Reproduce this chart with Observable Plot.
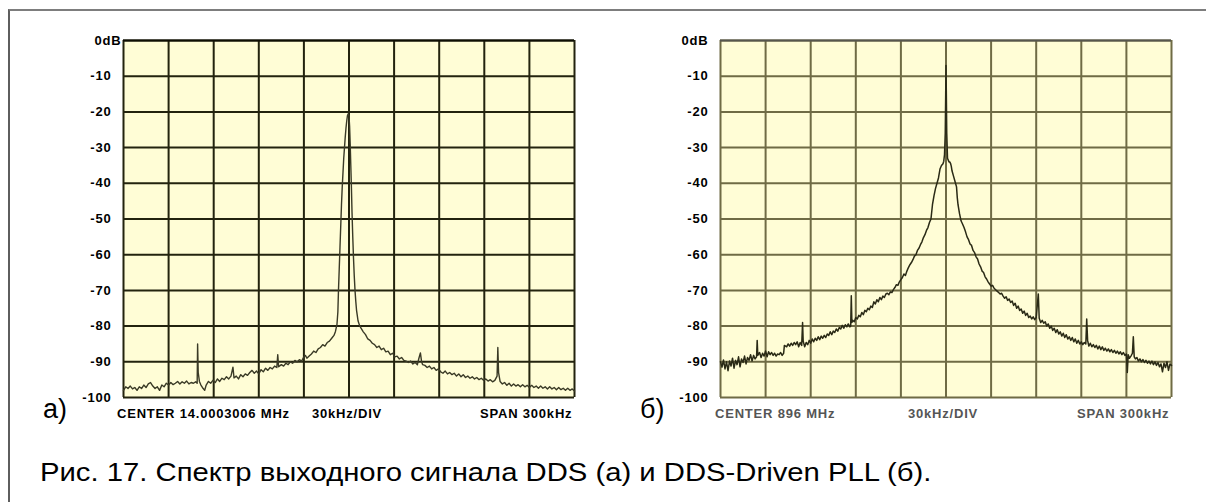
<!DOCTYPE html>
<html>
<head>
<meta charset="utf-8">
<script src="https://cdn.jsdelivr.net/npm/d3@7"></script>
<script src="https://cdn.jsdelivr.net/npm/@observablehq/plot@0.6"></script>
<style>
  html, body { margin: 0; padding: 0; background: #ffffff; }
  #page { position: relative; width: 1206px; height: 502px; overflow: hidden; background: #fff;
          font-family: "Liberation Sans", Arial, sans-serif; }
  #border { position: absolute; left: 8px; top: 9px; right: -4px; bottom: -10px;
            border-top: 2px solid #7d7d7d; border-left: 2px solid #5e5e5e; }
  .chart { position: absolute; top: 20px; }
  .chart svg { overflow: visible; }
  .lbl { position: absolute; font-weight: bold; font-size: 13px; line-height: 13px;
         letter-spacing: 0.8px; white-space: nowrap; }
  .big { position: absolute; font-size: 27px; line-height: 27px; white-space: nowrap; color: #000; }
  #caption { position: absolute; left: 40px; top: 460px; font-size: 25px; line-height: 25px;
             white-space: nowrap; color: #000; transform: scaleX(1.17); transform-origin: 0 0; }
</style>
</head>
<body>
<div id="page">
  <div id="border"></div>
  <div id="chartA" class="chart" style="left:60px"></div>
  <div id="chartB" class="chart" style="left:660px"></div>
</div>
<script>
// ---- axis ticks ----
const xTicks = [-150, -120, -90, -60, -30, 0, 30, 60, 90, 120, 150];   // kHz offset from center (30 kHz/div)
const yTicks = [0, -10, -20, -30, -40, -50, -60, -70, -80, -90, -100]; // dB

// ---- chart (а): DDS output spectrum ----
const freqA = [
-150,-148.5,-147,-145.5,-144,-142.5,-141,-139.5,-138,-136.5,-135,-133.5,-132,-130.5,-129,-127.5,-126,-124.5,-123,-121.5,
-120,-118.5,-117,-115.5,-114,-112.5,-111,-109.5,-108,-106.5,-105,-103.5,-102,-101,-100.7,-100.3,-99.5,-98.5,-97,-96,
-95,-93.5,-92,-90.5,-89,-87.5,-86,-84.5,-83,-81.5,-80,-78.5,-77.2,-76.5,-75,-73.5,-72,-70.5,-69,-67.5,
-66,-64.5,-63,-61.5,-60,-58.5,-57,-55.5,-54,-52.5,-51,-49.5,-48,-47.4,-46.8,-45,-43.5,-42,-40.5,-39,
-37.5,-36,-34.5,-33,-31.5,-30,-29,-28,-26.5,-25,-23.5,-22,-20.5,-19,-17.5,-16,-14.5,-13,-11.5,-10,
-9,-8,-7.4,-7,-6.5,-6,-5.5,-5,-4.5,-4,-3.5,-3,-2.5,-2,-1.5,-1,-0.5,0,0.4,0.8,
1.2,1.6,2,2.5,3,3.5,4,4.5,5,5.5,6,7,8,9.5,11,12.5,14,15.5,17,18.5,
20,21.5,23,24.5,26,27.5,29,30.5,32,33.5,35,36.5,38,39.5,41,42.5,44,45.5,46.5,47.5,
48.3,49,50.5,52,53.5,55,56.5,58,59.5,61,62.5,64,65.5,67,68.5,70,71.5,73,74.5,76,
77.5,79,80.5,82,83.5,85,86.5,88,89.5,91,92.5,94,95.5,97,98.5,99,99.5,100.5,102,103.5,
105,106.5,108,109.5,111,112.5,114,115.5,117,118.5,120,121.5,123,124.5,126,127.5,129,130.5,132,133.5,
135,136.5,138,139.5,141,142.5,144,145.5,147,148.5,150
];
const levelA = [
-98,-97,-97.5,-96.8,-97.6,-97.2,-98,-97,-97.5,-96.5,-97.2,-96.2,-95.8,-96.8,-97.5,-97,-98,-96.5,-97,-96,
-96.5,-95.8,-96.4,-96,-95.5,-96.2,-95.6,-96,-95.4,-96.2,-95.8,-96,-95.6,-96,-85,-93,-95.5,-96.5,-97.5,-98,
-96.5,-95.5,-96,-95.2,-95.8,-94.8,-95.5,-94.6,-95,-94.2,-94.8,-94,-91.5,-94.5,-94,-94.8,-93.6,-94.2,-93.4,-93.8,
-93,-92.4,-93.2,-92.6,-93.4,-92.2,-92.8,-91.8,-92.4,-91.6,-92,-91.2,-91.6,-88,-91.4,-90.8,-91.2,-90.4,-90.8,-90,
-90.4,-89.6,-90,-89.4,-89.8,-88.6,-88.2,-89,-88.4,-87.8,-87,-87.4,-86.4,-86,-85.2,-85.6,-84.6,-84.2,-83.4,-82.6,
-81.5,-79.5,-76,-70,-64,-58,-52,-46,-41,-37,-33,-30,-27,-24.5,-22.5,-21,-20.5,-21,-24,-29,
-35,-41,-48,-55,-61,-66,-70,-73,-75.5,-77,-78.5,-79.8,-80.6,-81.6,-82.4,-83.6,-84,-84.8,-85.2,-86,
-85.6,-86.6,-86.2,-87.2,-87,-88,-87.6,-88.6,-88.4,-89.2,-88.8,-89.6,-89.8,-90.2,-89.8,-90.6,-90.2,-90.8,-89,-87.5,
-90,-90.8,-91,-91.6,-91.2,-92,-91.6,-92.4,-92,-92.8,-93.2,-92.6,-93.4,-93,-93.6,-93.2,-94,-93.4,-94.2,-93.6,
-94.4,-94,-94.6,-94.2,-94.8,-94.4,-95,-94.6,-95.2,-94.8,-95.4,-95,-95.6,-95.2,-94,-86,-93,-95.5,-96.2,-95.8,
-96.6,-96,-96.8,-96.2,-96.8,-96.4,-97,-96.4,-97,-96.6,-97.2,-96.6,-97.2,-96.8,-97.4,-96.8,-97.4,-97,-97.6,-97,
-97.6,-97.2,-97.8,-97.2,-97.8,-97.4,-98,-97.4,-98,-97.6,-98.2
];

// ---- chart (б): DDS-Driven PLL output spectrum ----
const freqB = [
-150,-149,-148,-147,-146,-145,-144,-143,-142,-141,-140,-139,-138,-137,-136,-135,-134,-133,-132,-131,
-130,-129,-128,-127,-126,-125.6,-125.2,-124,-123,-122,-121,-120,-119,-118,-117,-116,-115,-114,-113,-112,
-111,-110,-109,-108,-107.5,-106,-105,-104,-103,-102,-101,-100,-99,-98,-97,-96,-95.4,-95,-94,-93,
-92,-91,-90,-89,-88,-87,-86,-85,-84,-83,-82,-81,-80,-79,-78,-77,-76,-75,-74,-73,
-72,-71,-70,-69,-68,-67,-66,-65,-64,-63.4,-63,-62.6,-62,-61,-60,-59,-58,-57,-56,-55,
-54,-53,-52,-51,-50,-49,-48,-47,-46,-45,-44,-43,-42,-41,-40,-39,-38,-37,-36,-35,
-34,-33,-32,-31,-30,-29,-28,-27,-26,-25,-24,-23,-22,-21,-20,-19,-18,-17,-16,-15,
-14,-13,-12,-11,-10,-9,-8,-7,-6,-5,-4,-3,-2,-1.5,-1,-0.5,-0.2,0,0.2,0.5,
1,1.5,2,2.5,3,3.5,4,5,6,7,7.5,8,9,10,11,12,13,14,15,16,
17,18,19,20,21,22,23,24,25,26,27,28,29,30,31,32,33,34,35,36,
37,38,39,40,41,42,43,44,45,46,47,48,49,50,51,52,53,54,55,56,
57,58,59,60,61.4,62,63,64,65,66,67,68,69,70,71,72,73,74,75,76,
77,78,79,80,81,82,83,84,85,86,87,88,89,90,91,92,93,93.6,94.2,95,
96,97,98,99,100,101,102,103,104,105,106,107,108,109,110,111,112,113,114,115,
116,117,118,119,120,120.6,121.2,122,123,124,124.6,125.2,126,127,128,129,130,131,132,133,
134,135,136,137,138,139,140,141,142,143,144,145,146,147,148,149,150
];
const levelB = [
-90,-91.5,-89.5,-92,-90,-92.5,-89.8,-91.2,-89,-91.8,-89.6,-90.8,-88.6,-91.4,-89.2,-90.2,-88.4,-90.6,-88.8,-89.6,
-88,-89.8,-88.2,-89.2,-88.6,-84,-88.2,-87.4,-88.8,-87.6,-88.4,-87,-88.6,-87.2,-88,-87.4,-88.2,-87.6,-88.4,-87.8,
-88,-87.4,-88.2,-87.6,-85.4,-85.8,-85,-85.6,-84.8,-85.4,-84.6,-85.2,-84.4,-85.8,-84.6,-85.4,-79,-84.2,-85.8,-84.6,
-85.2,-84,-84.8,-83.6,-84.4,-83.4,-84,-83,-83.8,-82.8,-83.4,-82.6,-83.2,-82.2,-82.6,-81.6,-82.4,-81.4,-81.8,-80.8,
-81.4,-80.4,-80.8,-79.8,-80.6,-79.6,-80.2,-79.4,-80.2,-80,-71.5,-79,-78.4,-78.8,-77.6,-78,-77,-77.4,-76.2,-76.8,
-75.6,-76,-75,-75.4,-74.4,-74.8,-73.2,-73.8,-72.6,-73.2,-72,-72.6,-71.6,-72,-71,-70.8,-71.2,-70.4,-70.6,-69.8,
-69.2,-68.4,-68.6,-67.6,-67,-66.4,-65.4,-65.8,-64.6,-63.6,-62.8,-62.2,-61.4,-60.4,-60,-58.8,-58.2,-57.2,-56.4,-55.2,
-54.4,-53.2,-52.4,-51,-50,-46,-43.5,-41.5,-40,-38.5,-36,-35,-34.5,-33.8,-32,-26,-15,-7,-14,-26,
-33,-33.5,-34,-34,-34.4,-35.2,-36.5,-38,-39.5,-41,-44,-46,-48.5,-50.5,-51.4,-52.4,-53.6,-55,-55.8,-57,
-57.4,-58.8,-59.4,-60.6,-61.2,-62.6,-63.4,-64.6,-65,-66.2,-66.8,-67.6,-68.2,-68.8,-68.6,-69.4,-69.8,-70.2,-70.6,-71,
-70.8,-71.6,-72.2,-71.8,-72.8,-72.4,-73.4,-73,-74.2,-73.6,-75,-74.4,-75.6,-75.2,-76.4,-75.8,-77,-76.4,-77.6,-77.2,
-78,-77.4,-78.2,-77.6,-71,-77.8,-79,-78.4,-79.2,-78.8,-80,-79.4,-80.6,-80,-81.2,-80.6,-81.8,-81,-82.2,-81.6,
-82.8,-82,-83.2,-82.4,-83.6,-83,-84,-83.2,-84.4,-83.6,-84.8,-84,-85,-84.4,-85.2,-84.6,-85,-78,-84,-85.6,
-84.8,-85.8,-85.2,-86,-85.4,-86.4,-85.6,-86.6,-85.8,-86.8,-86.2,-87,-86.4,-87.2,-86.6,-87.4,-86.8,-87.6,-87,-87.8,
-87.2,-88,-87.4,-88.2,-87.8,-93,-88,-89,-88.4,-87.6,-83,-88.6,-89.2,-88.8,-89.8,-89.2,-90,-89.4,-90.2,-89.6,
-90.4,-89.8,-90.6,-89.8,-90.8,-90,-91,-90.2,-91.4,-90.6,-92.8,-90.4,-91.6,-90,-92.4,-90.6,-91
];

const specA = freqA.map((f, i) => ({f, db: levelA[i]}));
const specB = freqB.map((f, i) => ({f, db: levelB[i]}));

function spectrum(data, o) {
  return Plot.plot({
    width: 540, height: 400,
    marginLeft: o.ml, marginRight: o.mr, marginTop: 20, marginBottom: 23,
    x: {domain: [-150, 150], axis: null},
    y: {domain: [-100, 0], axis: null},
    style: {background: "transparent", fontFamily: "'Liberation Sans', Arial, sans-serif",
            overflow: "visible", color: "#000", letterSpacing: "0.8px"},
    marks: [
      Plot.frame({fill: "#fffdd6", stroke: null}),
      Plot.ruleX(xTicks, {stroke: o.grid, strokeWidth: 2}),
      Plot.ruleY(yTicks, {stroke: o.grid, strokeWidth: 2}),
      Plot.ruleY([0], {stroke: o.topEdge, strokeWidth: 2}),
      Plot.line(data, {x: "f", y: "db", stroke: o.trace, strokeWidth: o.tw}),
      Plot.axisY(yTicks.filter(d => d !== 0), {tickSize: 0, tickPadding: 12, label: null,
        fontWeight: "bold", fontSize: 13, fill: "#000", tickFormat: d => String(d)}),
      Plot.axisY([0], {tickSize: 0, tickPadding: o.zeroPad, label: null,
        fontWeight: "bold", fontSize: 13, fill: "#000", tickFormat: () => "0dB"})
    ]
  });
}

document.getElementById("chartA").append(spectrum(specA,
  {ml: 63, mr: 26, grid: "#23230e", topEdge: "#0e0e04", trace: "#3a3a26", tw: 1.4, zeroPad: 2}));
document.getElementById("chartB").append(spectrum(specB,
  {ml: 60, mr: 29, grid: "#6f6b45", topEdge: "#56564e", trace: "#2a2a16", tw: 1.5, zeroPad: 12}));

// ---- text labels ----
const page = document.getElementById("page");
const labels = [
  {t: "CENTER 14.0003006 MHz", x: 117, y: 407, c: "#000"},
  {t: "30kHz/DIV", x: 312, y: 407, c: "#000"},
  {t: "SPAN 300kHz", x: 480, y: 407, c: "#000"},
  {t: "CENTER 896 MHz", x: 715, y: 407, c: "#555"},
  {t: "30kHz/DIV", x: 908, y: 407, c: "#555"},
  {t: "SPAN 300kHz", x: 1077, y: 407, c: "#555"}
];
for (const l of labels) {
  const d = document.createElement("div");
  d.className = "lbl"; d.textContent = l.t;
  d.style.left = l.x + "px"; d.style.top = l.y + "px"; d.style.color = l.c;
  page.append(d);
}
const panelTags = [{t: "а)", x: 43}, {t: "б)", x: 640}];
for (const p of panelTags) {
  const d = document.createElement("div");
  d.className = "big"; d.textContent = p.t;
  d.style.left = p.x + "px"; d.style.top = "396px";
  page.append(d);
}
const cap = document.createElement("div");
cap.id = "caption";
cap.textContent = "Рис. 17. Спектр выходного сигнала DDS (а) и DDS-Driven PLL (б).";
page.append(cap);
</script>
</body>
</html>
